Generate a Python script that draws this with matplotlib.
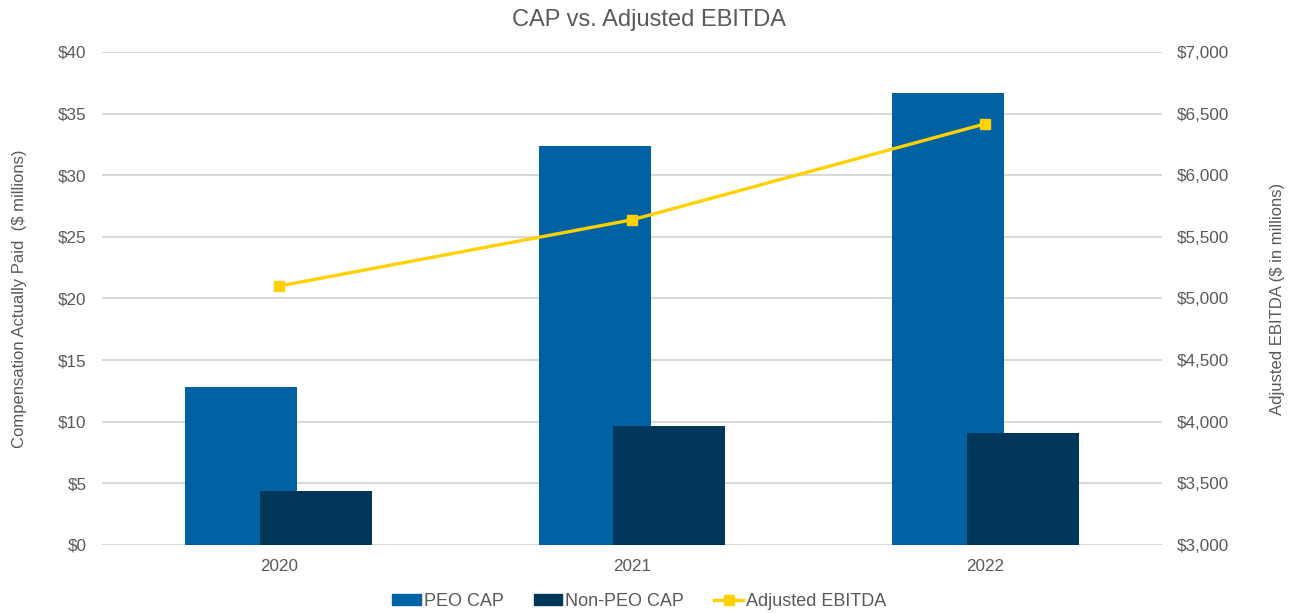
import matplotlib.pyplot as plt
from matplotlib.patches import Patch
from matplotlib.lines import Line2D
import numpy as np

plt.rcParams['font.family'] = ['Liberation Sans', 'DejaVu Sans']

years = ['2020', '2021', '2022']
peo_cap = [12.85, 32.33, 36.66]
non_peo_cap = [4.38, 9.66, 9.12]
adj_ebitda = [5100, 5638, 6417]

peo_color = '#0062A3'
non_peo_color = '#00375A'
ebitda_color = '#FFD100'
text_color = '#595959'
grid_color = '#D9D9D9'

fig = plt.figure(figsize=(12.99, 6.14), dpi=100)
ax = fig.add_axes([0.0785, 0.1124, 0.816, 0.803])
x = np.arange(len(years))
w = 0.317
off = 0.106

ax.bar(x - off, peo_cap, w, color=peo_color, zorder=2)
ax.bar(x + off, non_peo_cap, w, color=non_peo_color, zorder=3)

ax.set_xlim(-0.5, 2.5)
ax.set_ylim(0, 40)
ax.set_yticks(range(0, 41, 5))
ax.set_yticklabels(['$%d' % v for v in range(0, 41, 5)])
ax.set_xticks(x)
ax.set_xticklabels(years)
ax.yaxis.grid(True, color=grid_color, linewidth=1.5, zorder=0)
ax.set_axisbelow(True)
ax.tick_params(length=0, labelsize=12.3, colors=text_color, pad=11)
ax.tick_params(axis='x', pad=10)
for s in ax.spines.values():
    s.set_visible(False)
ax.set_ylabel('Compensation Actually Paid  ($ millions)', fontsize=12,
              color=text_color)
ax.yaxis.set_label_coords(-0.071, 0.5)

# EBITDA line on its own scale
ax2 = ax.twinx()
ax2.plot(x, adj_ebitda, color=ebitda_color, linewidth=2.4, marker='s',
         markersize=7, zorder=4)
ax2.set_ylim(3000, 7000)
ax2.set_yticks(range(3000, 7001, 500))
ax2.set_yticklabels(['${:,}'.format(v) for v in range(3000, 7001, 500)])
ax2.tick_params(length=0, labelsize=12.3, colors=text_color, pad=11)
for s in ax2.spines.values():
    s.set_visible(False)
ax2.set_ylabel('Adjusted EBITDA ($ in millions)', fontsize=12,
               color=text_color)
ax2.yaxis.set_label_coords(1.102, 0.5)

fig.suptitle('CAP vs. Adjusted EBITDA', y=0.986, fontsize=17, color=text_color)

handles = [
    Patch(color=peo_color, label='PEO CAP'),
    Patch(color=non_peo_color, label='Non-PEO CAP'),
    Line2D([], [], color=ebitda_color, linewidth=2.4, marker='s',
           markersize=7, label='Adjusted EBITDA'),
]
leg = fig.legend(handles=handles, loc='center', bbox_to_anchor=(0.492, 0.021),
                 ncol=3, frameon=False, fontsize=13, handlelength=1.6,
                 handleheight=0.55, handletextpad=0.17, columnspacing=1.65)
for t in leg.get_texts():
    t.set_color(text_color)

fig.savefig('out.png', dpi=100)
